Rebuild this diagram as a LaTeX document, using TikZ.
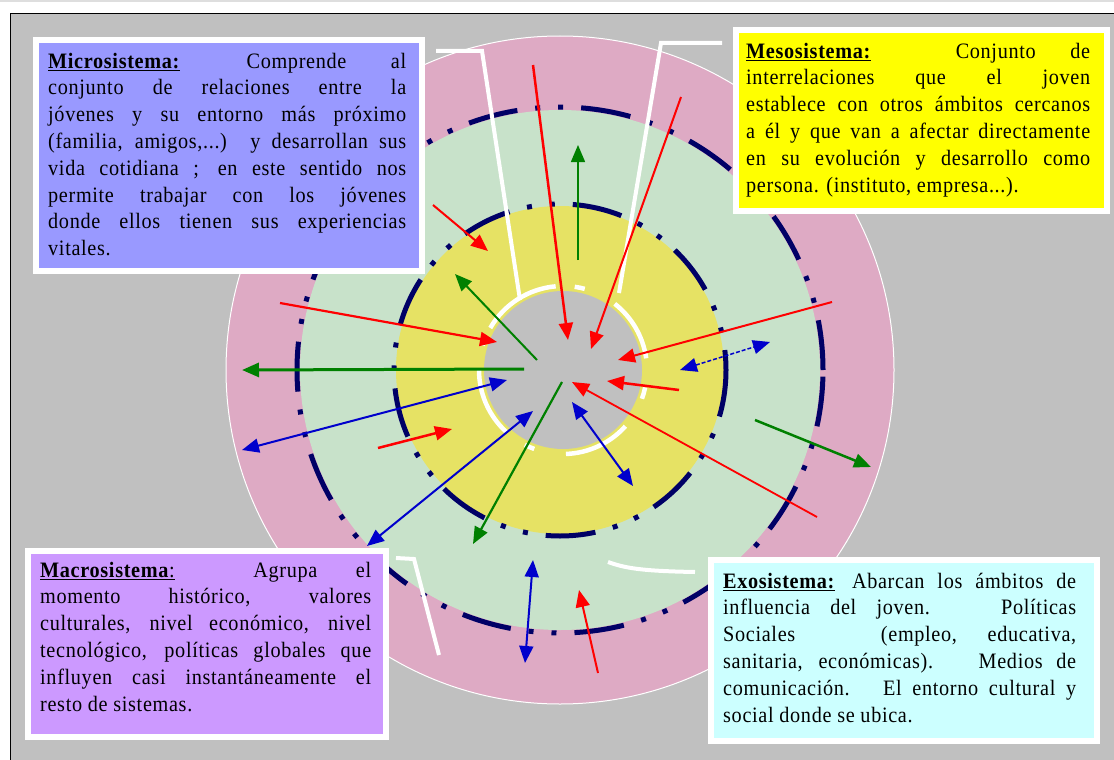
\documentclass[tikz,border=0pt]{standalone}
\usepackage{fontspec}
\setmainfont{Liberation Serif}
\newfontfamily\boxfont[LetterSpace=3, FakeStretch=0.92]{Liberation Serif}
\usetikzlibrary{arrows.meta}
\definecolor{bggray}{RGB}{192,192,192}
\definecolor{topgray}{RGB}{222,222,222}
\definecolor{pinkring}{RGB}{222,170,196}
\definecolor{greenring}{RGB}{200,226,202}
\definecolor{yellowring}{RGB}{230,226,100}
\definecolor{navy}{RGB}{0,0,102}
\definecolor{myred}{RGB}{255,0,0}
\definecolor{mygreen}{RGB}{0,128,0}
\definecolor{myblue}{RGB}{0,0,204}
\definecolor{microfill}{RGB}{153,153,255}
\definecolor{mesofill}{RGB}{255,255,0}
\definecolor{macrofill}{RGB}{204,153,255}
\definecolor{exofill}{RGB}{204,255,255}
\tikzset{
  ringnavy/.style={draw=navy, line width=5pt, dash pattern=on 50pt off 18pt on 5pt off 18pt on 5pt off 18pt},
  whiteline/.style={draw=white, line width=4pt, line join=miter},
  rim/.style={draw=white, line width=4.5pt},
  onearrow/.style={line width=#1, -{Triangle[length=17pt,width=14pt]}},
  twoarrow/.style={line width=#1, {Triangle[length=17pt,width=14pt]}-{Triangle[length=17pt,width=14pt]}},
  sysbox/.style={draw=white, line width=6pt, fill=#1, inner sep=0pt, anchor=north west},
  boxtext/.style={inner sep=0pt, anchor=north west, text width=#1, align=justify,
     font=\boxfont\fontsize{22pt}{26.8pt}\selectfont},
}
\begin{document}
\begin{tikzpicture}[x=1pt,y=-1pt]
\useasboundingbox (0,0) rectangle (1114,760);
% background and frame
\fill[white] (0,0) rectangle (1114,760);
\fill[topgray] (0,0) rectangle (1114,2.5);
\fill[bggray] (10.5,13.5) rectangle (1114,760);
\draw[black, line width=1.5pt] (10.5,760) -- (10.5,13.5) -- (1114,13.5);
% rings
\coordinate (c) at (560,370);
\coordinate (gc) at (563,370);
\fill[pinkring] (c) circle[radius=334pt];
\draw[white, line width=1pt] (c) circle[radius=334pt];
\fill[greenring] (c) circle[radius=260pt];
\fill[yellowring] (c) circle[radius=164pt];
\fill[bggray] (gc) circle[radius=79pt];
\draw[ringnavy] (c) circle[radius=263pt];
\draw[ringnavy, dash phase=30pt] (c) circle[radius=166pt];
% white cut lines
\draw[whiteline] (436,51) -- (482,51) -- (520,300);
\draw[whiteline] (722,43) -- (661,43) -- (619,293);
\draw[whiteline] (396,558) -- (414,559) -- (439,655);
\draw[whiteline] (608,562) .. controls (625,568) and (640,571) .. (695,572);
% white rim around the centre
\draw[rim] (gc) ++(95:84pt) arc[start angle=95, end angle=150, radius=84pt];
\draw[rim] (gc) ++(180:84pt) arc[start angle=180, end angle=228, radius=84pt];
\draw[rim] (gc) ++(272:84pt) arc[start angle=272, end angle=318, radius=84pt];
\draw[rim] (gc) ++(8:84pt) arc[start angle=8, end angle=52, radius=84pt];
\draw[rim] (gc) ++(75:84pt) arc[start angle=75, end angle=82, radius=84pt];
\draw[rim] (gc) ++(158:84pt) arc[start angle=158, end angle=163, radius=84pt];
\draw[rim] (gc) ++(243:84pt) arc[start angle=243, end angle=250, radius=84pt];
\draw[rim] (gc) ++(340:84pt) arc[start angle=340, end angle=348, radius=84pt];
% arrow end points
\coordinate (r1a) at (533,65);  \coordinate (r1b) at (568,340);
\coordinate (r2a) at (681,97);  \coordinate (r2b) at (591,349);
\coordinate (r3a) at (433,205); \coordinate (r3b) at (488,251);
\coordinate (r4a) at (280,303); \coordinate (r4b) at (497,342);
\coordinate (r5a) at (832,302); \coordinate (r5b) at (618,360);
\coordinate (r6a) at (679,390); \coordinate (r6b) at (607,381);
\coordinate (r7a) at (817,517); \coordinate (r7b) at (572,382);
\coordinate (r8a) at (378,448); \coordinate (r8b) at (452,429);
\coordinate (r9a) at (598,673); \coordinate (r9b) at (579,590);
\coordinate (g1a) at (578,260); \coordinate (g1b) at (578,145);
\coordinate (g2a) at (537,360); \coordinate (g2b) at (455,274);
\coordinate (g3a) at (524,369); \coordinate (g3b) at (242,370);
\coordinate (g4a) at (562,382); \coordinate (g4b) at (473,544);
\coordinate (g5a) at (755,420); \coordinate (g5b) at (871,467);
\coordinate (b1a) at (242,450); \coordinate (b1b) at (507,380);
\coordinate (b2a) at (367,546); \coordinate (b2b) at (533,411);
\coordinate (b3a) at (572,402); \coordinate (b3b) at (633,486);
\coordinate (b4a) at (680,370); \coordinate (b4b) at (770,342);
\coordinate (b5a) at (533,560); \coordinate (b5b) at (525,663);
% red arrows
\draw[onearrow=2.5pt, myred] (r1a) -- (r1b);
\draw[onearrow=2pt, myred] (r2a) -- (r2b);
\draw[onearrow=2pt, myred] (r3a) -- (r3b);
\draw[onearrow=2.2pt, myred] (r4a) -- (r4b);
\draw[onearrow=2pt, myred] (r5a) -- (r5b);
\draw[onearrow=2.5pt, myred] (r6a) -- (r6b);
\draw[onearrow=1.8pt, myred] (r7a) -- (r7b);
\draw[onearrow=2.5pt, myred] (r8a) -- (r8b);
\draw[onearrow=2pt, myred] (r9a) -- (r9b);
% green arrows
\draw[onearrow=1.5pt, mygreen] (g1a) -- (g1b);
\draw[onearrow=2pt, mygreen] (g2a) -- (g2b);
\draw[onearrow=3pt, mygreen] (g3a) -- (g3b);
\draw[onearrow=2.2pt, mygreen] (g4a) -- (g4b);
\draw[onearrow=2.5pt, mygreen] (g5a) -- (g5b);
% blue arrows
\draw[twoarrow=2pt, myblue] (b1a) -- (b1b);
\draw[twoarrow=2pt, myblue] (b2a) -- (b2b);
\draw[twoarrow=2pt, myblue] (b3a) -- (b3b);
\draw[twoarrow=1.5pt, myblue, dash pattern=on 4pt off 2pt] (b4a) -- (b4b);
\draw[twoarrow=2pt, myblue] (b5a) -- (b5b);
% boxes
\node[sysbox=microfill, minimum width=386pt, minimum height=230pt] (micro) at (33,37.5) {};
\node[boxtext=358pt] (microtext) at (48,49.2) {\strut\underline{\textbf{Microsistema:}}\hspace{22pt} Comprende al\linebreak
conjunto de relaciones entre la\linebreak
jóvenes y su entorno más próximo\linebreak
(familia, amigos,...) y desarrollan sus\linebreak
vida cotidiana ; en este sentido nos\linebreak
permite trabajar con los jóvenes\linebreak
donde ellos tienen sus experiencias\linebreak
vitales.};
\node[sysbox=mesofill, minimum width=371pt, minimum height=180pt] (meso) at (733,27.5) {};
\node[boxtext=344pt] (mesotext) at (746,39.2) {\strut\underline{\textbf{Mesosistema:}}\hspace{50pt} Conjunto de\linebreak
interrelaciones que el joven\linebreak
establece con otros ámbitos cercanos\linebreak
a él y que van a afectar directamente\linebreak
en su evolución y desarrollo como\linebreak
persona. (instituto, empresa...).};
\node[sysbox=macrofill, minimum width=358pt, minimum height=186pt] (macro) at (25,548) {};
\node[boxtext=331pt] (macrotext) at (40,558.2) {\strut\underline{\textbf{Macrosistema}:}\hspace{40pt} Agrupa el\linebreak
momento histórico, valores\linebreak
culturales, nivel económico, nivel\linebreak
tecnológico, políticas globales que\linebreak
influyen casi instantáneamente el\linebreak
resto de sistemas.};
\node[sysbox=exofill, minimum width=386pt, minimum height=181pt] (exo) at (708,556.5) {};
\node[boxtext=353pt] (exotext) at (723,569.2) {\strut\underline{\textbf{Exosistema:}}\hspace{4pt} Abarcan los ámbitos de\linebreak
influencia del joven. \ Políticas\linebreak
Sociales\hspace{60pt} (empleo, educativa,\linebreak
sanitaria, económicas). \ Medios de\linebreak
comunicación. \ El entorno cultural y\linebreak
social donde se ubica.};
\end{tikzpicture}
\end{document}
